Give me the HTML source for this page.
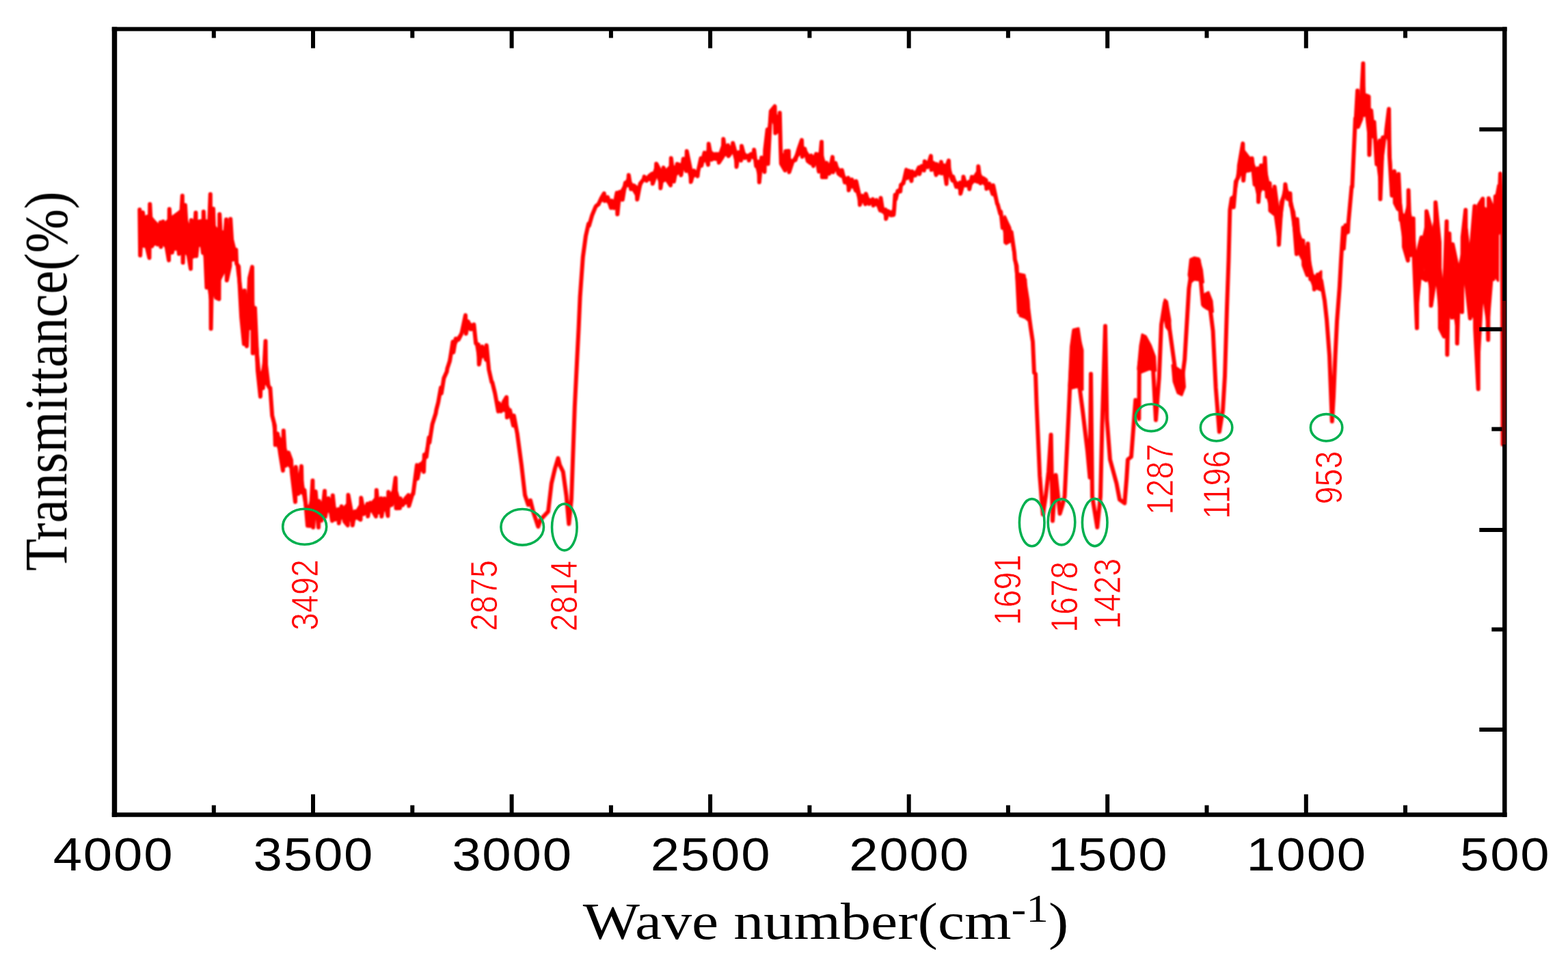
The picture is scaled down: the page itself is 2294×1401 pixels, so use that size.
<!DOCTYPE html>
<html><head><meta charset="utf-8"><title>FTIR spectrum</title>
<style>
html,body{margin:0;padding:0;background:#fff;}
body{width:2294px;height:1401px;overflow:hidden;}
svg{display:block;}
</style></head>
<body>
<svg width="2294" height="1401" viewBox="0 0 2294 1401">
<rect width="2294" height="1401" fill="#fff"/>
<line x1="2201.3" y1="335.5" x2="2182.3" y2="335.5" stroke="#000" stroke-width="6"/>
<defs><filter id="soft" x="-2%" y="-2%" width="104%" height="104%"><feGaussianBlur stdDeviation="0.9"/></filter><filter id="soft2" x="-1%" y="-1%" width="102%" height="102%"><feGaussianBlur stdDeviation="0.45"/></filter></defs>
<g filter="url(#soft)">
<g fill="#ff0000" stroke="#ff0000" stroke-width="3" stroke-linejoin="round">
<polygon points="204.3,320.0 206.3,319.2 208.4,318.3 210.4,317.5 212.4,316.7 214.4,315.9 216.5,315.1 218.5,314.3 220.5,316.5 222.5,318.8 224.5,321.1 226.6,323.4 228.6,325.6 230.6,327.9 232.6,330.2 234.6,332.4 236.7,330.5 238.7,328.5 240.8,326.6 242.9,324.6 244.9,322.6 247.0,320.7 249.0,319.2 251.0,317.7 252.9,316.2 254.9,314.7 256.9,313.2 258.9,311.7 260.9,310.3 262.8,308.8 264.8,307.3 266.8,305.8 268.8,310.8 270.9,315.9 272.9,321.0 274.9,326.0 277.0,331.1 279.0,336.1 280.9,333.0 282.7,329.9 284.5,326.7 286.4,323.6 288.5,323.2 290.6,322.7 292.8,322.3 294.9,321.9 297.0,321.5 299.2,321.8 301.3,322.2 303.5,322.6 305.6,322.9 307.8,323.3 309.9,325.7 312.0,328.2 314.1,330.6 316.2,333.1 318.3,335.6 320.4,338.0 322.5,338.2 324.6,338.3 326.8,338.4 328.9,338.6 331.0,338.7 332.8,337.1 334.6,335.6 336.4,334.0 338.6,342.8 340.9,351.6 343.1,360.4 345.3,370.9 347.2,383.5 349.2,396.2 351.1,408.9 353.1,421.5 355.1,434.2 357.0,446.9 359.0,443.3 361.0,439.8 363.0,436.3 365.0,432.8 367.0,429.3 369.0,425.7 371.0,447.4 373.0,469.0 375.0,490.6 377.0,512.2 379.0,533.9 381.0,555.5 382.9,545.5 384.8,535.5 386.6,525.5 388.5,515.5 390.5,532.8 392.5,550.2 394.5,567.5 396.4,583.2 398.2,598.9 400.1,614.6 402.0,630.3 404.0,632.9 406.0,635.6 408.0,638.2 410.0,640.8 412.0,643.5 414.0,646.1 416.0,651.4 418.0,656.7 420.0,662.0 422.0,667.2 424.0,672.5 426.0,677.8 428.0,684.3 430.0,690.8 432.0,697.2 434.2,696.1 436.5,694.9 438.8,693.7 441.0,692.6 443.2,706.7 445.5,720.8 447.8,734.8 450.0,748.9 451.9,742.2 453.7,735.4 455.5,728.7 457.4,721.9 459.5,727.3 461.7,732.7 463.9,738.1 466.0,743.5 468.2,739.8 470.5,736.1 472.8,732.3 475.0,728.6 476.8,729.6 478.7,730.7 480.5,731.7 482.3,732.7 484.2,733.8 486.0,734.8 488.2,738.7 490.5,742.6 492.8,746.6 495.0,750.5 497.0,748.5 498.9,746.4 500.9,744.4 502.8,742.4 504.8,740.3 506.7,738.3 508.7,736.2 510.8,743.4 512.9,750.6 515.0,757.8 517.1,754.3 519.2,750.9 521.2,747.4 523.3,743.9 525.4,740.5 527.5,737.0 529.5,738.0 531.5,739.0 533.5,740.0 535.5,741.0 537.5,742.0 539.6,739.6 541.7,737.2 543.8,734.8 545.8,732.4 547.9,730.0 550.0,727.5 551.9,729.7 553.8,731.9 555.6,734.0 557.5,736.2 559.5,734.8 561.5,733.4 563.5,732.0 565.5,730.7 567.5,729.3 569.4,726.3 571.2,723.3 573.1,720.2 575.0,717.2 576.8,714.2 578.7,711.2 580.8,718.5 582.9,725.7 585.0,732.9 587.1,732.2 589.2,731.5 591.2,730.7 593.3,730.0 595.4,729.3 597.5,728.6 599.6,726.4 601.6,724.2 603.7,722.0 605.8,709.9 607.9,697.8 610.0,685.6 612.0,682.9 614.0,680.2 616.0,677.4 618.0,674.7 620.0,672.0 621.9,664.5 623.8,656.9 625.6,649.4 627.5,641.9 629.5,633.7 631.5,625.5 633.5,617.3 635.5,609.1 637.5,600.9 639.4,593.0 641.2,585.0 643.1,577.1 645.0,569.2 647.2,561.9 649.4,554.5 651.5,547.2 653.7,539.9 655.9,531.0 658.1,522.0 660.3,513.1 662.5,504.1 664.6,501.1 666.7,498.2 668.8,495.2 670.8,492.3 672.9,489.3 675.0,486.4 677.0,480.4 679.0,474.5 681.0,468.6 682.9,469.8 684.8,471.1 686.8,472.3 688.7,473.6 690.6,474.9 692.5,476.1 694.4,485.1 696.2,494.1 698.1,503.1 700.0,512.1 701.8,511.9 703.7,511.7 705.5,511.5 707.3,511.3 709.2,511.1 711.0,510.9 713.1,522.9 715.2,535.0 717.3,547.0 719.4,559.0 721.3,565.8 723.2,572.5 725.2,579.3 727.1,586.1 729.0,592.8 731.0,592.2 733.0,591.6 735.0,591.0 737.0,590.4 739.0,589.8 741.0,589.1 743.0,593.7 745.0,598.2 747.0,602.7 749.0,607.3 751.0,611.8 753.0,619.7 755.0,627.6 757.0,635.5 757.0,635.5 755.0,629.7 753.0,624.0 751.0,618.2 749.0,615.0 747.0,611.7 745.0,608.5 743.0,605.3 741.0,602.1 739.0,601.4 737.0,600.8 735.0,600.1 733.0,599.5 731.0,598.8 729.0,598.2 727.1,590.3 725.2,582.5 723.2,574.7 721.3,566.8 719.4,559.0 717.3,549.3 715.2,539.5 713.1,529.8 711.0,520.1 709.2,520.9 707.3,521.7 705.5,522.5 703.7,523.3 701.8,524.1 700.0,524.9 698.1,513.4 696.2,501.9 694.4,490.4 692.5,478.9 690.6,479.1 688.7,479.4 686.8,479.7 684.8,479.9 682.9,480.2 681.0,480.4 679.0,482.8 677.0,485.2 675.0,487.6 672.9,491.5 670.8,495.4 668.8,499.3 666.7,503.1 664.6,507.0 662.5,510.9 660.3,518.7 658.1,526.5 655.9,534.3 653.7,542.1 651.5,549.8 649.4,557.5 647.2,565.1 645.0,572.8 643.1,580.4 641.2,588.0 639.4,595.5 637.5,603.1 635.5,611.5 633.5,619.9 631.5,628.3 629.5,636.7 627.5,645.1 625.6,654.6 623.8,664.1 621.9,673.5 620.0,683.0 618.0,685.3 616.0,687.6 614.0,689.8 612.0,692.1 610.0,694.4 607.9,703.6 605.8,712.8 603.7,722.0 601.6,726.5 599.6,731.0 597.5,735.4 595.4,736.0 593.3,736.6 591.2,737.3 589.2,737.9 587.1,738.5 585.0,739.1 582.9,736.3 580.8,733.5 578.7,730.8 576.8,733.1 575.0,735.4 573.1,737.8 571.2,740.1 569.4,742.4 567.5,744.7 565.5,745.3 563.5,746.0 561.5,746.6 559.5,747.2 557.5,747.8 555.6,747.0 553.8,746.1 551.9,745.3 550.0,744.5 547.9,745.4 545.8,746.3 543.8,747.2 541.7,748.2 539.6,749.1 537.5,750.0 535.5,750.2 533.5,750.4 531.5,750.6 529.5,750.8 527.5,751.0 525.4,753.2 523.3,755.4 521.2,757.6 519.2,759.8 517.1,762.0 515.0,764.2 512.9,761.4 510.8,758.6 508.7,755.8 506.7,756.3 504.8,756.8 502.8,757.4 500.9,757.9 498.9,758.4 497.0,759.0 495.0,759.5 492.8,757.4 490.5,755.4 488.2,753.3 486.0,751.2 484.2,750.2 482.3,749.3 480.5,748.3 478.7,747.3 476.8,746.4 475.0,745.4 472.8,749.2 470.5,752.9 468.2,756.7 466.0,760.5 463.9,758.4 461.7,756.3 459.5,754.2 457.4,752.1 455.5,754.3 453.7,756.6 451.9,758.8 450.0,761.1 447.8,748.2 445.5,735.2 443.2,722.3 441.0,709.4 438.8,712.0 436.5,714.6 434.2,717.2 432.0,719.8 430.0,708.2 428.0,696.7 426.0,685.2 424.0,683.0 422.0,680.8 420.0,678.5 418.0,676.3 416.0,674.1 414.0,671.9 412.0,667.0 410.0,662.2 408.0,657.3 406.0,652.4 404.0,647.6 402.0,642.7 400.1,623.9 398.2,605.1 396.4,586.3 394.5,567.5 392.5,558.8 390.5,550.2 388.5,541.5 386.6,548.8 384.8,556.0 382.9,563.3 381.0,570.5 379.0,555.6 377.0,540.8 375.0,525.9 373.0,511.0 371.0,496.1 369.0,481.3 367.0,481.2 365.0,481.2 363.0,481.2 361.0,481.2 359.0,481.2 357.0,481.1 355.1,464.3 353.1,447.4 351.1,430.5 349.2,413.6 347.2,396.7 345.3,379.8 343.1,379.9 340.9,378.3 338.6,376.7 336.4,375.2 334.6,380.8 332.8,386.5 331.0,392.2 328.9,396.3 326.8,400.4 324.6,404.4 322.5,408.5 320.4,412.6 318.3,417.4 316.2,422.2 314.1,427.0 312.0,431.8 309.9,436.6 307.8,441.4 305.6,424.7 303.5,407.9 301.3,391.2 299.2,374.5 297.0,357.7 294.9,358.5 292.8,359.4 290.6,360.2 288.5,361.0 286.4,361.8 284.5,366.1 282.7,370.3 280.9,374.6 279.0,378.9 277.0,376.5 274.9,374.1 272.9,371.7 270.9,369.3 268.8,366.9 266.8,364.5 264.8,364.6 262.8,364.7 260.9,364.8 258.9,365.0 256.9,365.1 254.9,365.2 252.9,365.3 251.0,365.4 249.0,365.5 247.0,365.6 244.9,363.7 242.9,361.7 240.8,359.7 238.7,357.8 236.7,355.8 234.6,353.9 232.6,354.8 230.6,355.8 228.6,356.7 226.6,357.6 224.5,358.6 222.5,359.5 220.5,360.5 218.5,361.4 216.5,361.2 214.4,361.1 212.4,360.9 210.4,360.7 208.4,360.5 206.3,360.3 204.3,360.1"/>
<polygon points="861.0,328.1 863.1,322.8 865.2,317.5 867.2,312.2 869.3,306.9 871.4,301.6 873.5,299.0 875.5,296.3 877.6,293.7 879.7,291.1 881.7,288.5 883.8,285.9 885.8,288.0 887.9,290.1 889.9,292.2 892.0,294.3 894.0,296.3 896.1,295.0 898.2,293.6 900.4,292.2 902.5,290.8 904.6,286.9 906.6,283.1 908.7,279.3 910.8,275.5 912.8,271.6 914.9,267.8 916.9,264.0 919.0,260.1 921.1,263.3 923.1,266.5 925.2,269.7 927.3,273.0 929.3,276.2 931.4,279.4 933.5,275.4 935.6,271.4 937.6,267.4 939.7,263.4 941.8,259.4 943.8,259.2 945.9,259.0 947.9,258.8 949.9,258.6 952.0,258.4 954.0,258.2 955.8,253.5 957.6,248.8 959.4,244.1 961.5,248.4 963.5,252.6 965.6,256.9 967.5,255.1 969.5,253.3 971.4,251.4 973.3,249.6 975.2,247.8 977.1,246.0 979.1,244.1 981.0,242.3 983.1,242.8 985.2,243.3 987.3,243.8 989.3,244.3 991.4,244.8 993.5,245.3 995.6,245.8 997.7,241.7 999.8,237.5 1001.9,233.3 1004.0,229.1 1006.0,236.7 1008.0,244.3 1010.0,251.9 1012.1,252.1 1014.2,252.2 1016.3,252.4 1018.4,252.6 1020.5,252.7 1023.0,243.6 1025.4,234.5 1027.5,231.4 1029.6,228.3 1031.8,225.1 1033.9,222.0 1036.0,218.9 1037.9,220.1 1039.8,221.4 1041.6,222.6 1043.5,223.9 1045.4,225.1 1047.2,226.4 1049.1,227.6 1051.0,228.9 1053.2,222.7 1055.3,216.5 1057.5,210.4 1059.4,212.0 1061.2,213.6 1063.1,215.3 1065.0,216.9 1067.1,215.4 1069.3,213.9 1071.4,212.4 1073.2,218.5 1074.9,224.6 1076.7,230.7 1078.6,227.9 1080.5,225.1 1082.3,222.2 1084.2,219.4 1086.4,221.4 1088.5,223.4 1090.7,225.4 1092.8,227.4 1095.0,229.4 1096.8,227.6 1098.7,225.7 1100.6,223.9 1102.4,222.1 1104.3,227.7 1106.2,233.4 1108.1,239.1 1110.0,244.7 1112.1,240.6 1114.2,236.5 1116.4,232.4 1118.5,228.2 1120.7,215.8 1122.8,203.3 1124.9,184.6 1127.0,165.9 1129.2,166.0 1131.3,166.2 1133.5,166.4 1135.7,168.2 1137.8,170.0 1140.0,171.7 1142.0,222.6 1144.2,224.7 1146.3,226.9 1148.5,229.0 1150.3,229.1 1152.0,229.3 1153.8,229.4 1155.5,231.7 1157.3,234.0 1159.0,236.2 1161.0,232.7 1163.0,229.2 1165.0,225.7 1167.0,222.2 1169.0,218.6 1171.0,215.1 1173.0,211.6 1175.2,214.8 1177.3,218.0 1179.5,221.1 1181.7,224.3 1183.8,227.5 1186.0,230.7 1188.0,229.6 1190.0,228.5 1192.0,227.4 1194.0,226.3 1196.0,225.2 1198.0,224.0 1200.0,222.9 1202.0,221.8 1204.1,229.3 1206.3,236.7 1208.4,244.1 1210.3,242.5 1212.2,240.8 1214.2,239.1 1216.1,237.5 1218.0,235.8 1220.2,238.3 1222.3,240.9 1224.5,243.5 1226.7,246.0 1228.8,248.6 1231.0,251.2 1233.0,254.0 1235.0,256.8 1236.9,259.6 1238.9,262.4 1240.9,265.2 1243.1,266.0 1245.3,266.7 1247.4,267.4 1249.6,268.1 1251.8,268.9 1253.6,275.8 1255.4,282.7 1257.2,289.6 1259.4,289.1 1261.6,288.6 1263.8,288.2 1266.0,287.7 1268.2,288.9 1270.4,290.2 1272.5,291.4 1274.7,292.6 1276.9,293.9 1279.1,294.0 1281.3,294.2 1283.4,294.3 1285.6,294.5 1287.8,294.6 1289.7,298.6 1291.6,302.5 1293.5,306.4 1295.4,310.4 1297.4,310.0 1299.4,309.7 1301.4,309.3 1303.4,309.0 1305.4,308.6 1307.4,308.2 1309.6,286.8 1311.5,283.4 1313.4,280.0 1315.3,276.6 1317.2,273.2 1319.4,267.8 1321.6,262.5 1323.8,257.1 1326.0,251.8 1327.9,252.5 1329.8,253.2 1331.6,254.0 1333.5,254.7 1335.7,253.3 1337.9,251.8 1340.0,250.4 1342.2,248.9 1344.4,247.5 1346.3,245.5 1348.2,243.5 1350.1,241.6 1352.0,239.6 1354.0,238.4 1356.0,237.2 1357.9,236.1 1359.9,234.9 1361.9,233.7 1363.8,236.4 1365.7,239.0 1367.6,241.7 1369.5,244.4 1371.4,243.7 1373.2,243.0 1375.1,242.3 1377.0,241.6 1378.9,243.5 1380.8,245.5 1382.8,247.4 1384.7,249.4 1386.3,244.6 1388.0,239.7 1389.8,246.4 1391.7,253.1 1393.5,259.8 1395.7,262.2 1397.9,264.6 1400.0,266.9 1402.2,269.3 1404.4,271.7 1406.6,266.7 1408.7,261.8 1410.9,263.6 1413.1,265.5 1415.2,267.3 1417.4,269.1 1419.3,266.3 1421.1,263.5 1423.0,260.7 1424.9,257.9 1426.8,255.1 1428.6,252.3 1430.5,249.5 1432.5,252.4 1434.5,255.3 1436.5,258.3 1438.5,261.2 1440.5,264.1 1442.5,267.0 1444.5,268.5 1446.4,270.1 1448.4,271.6 1450.3,273.1 1452.3,274.6 1454.5,282.6 1456.7,290.5 1458.9,298.4 1461.2,304.4 1463.4,310.4 1465.7,316.7 1468.0,322.9 1470.3,329.2 1472.4,332.3 1474.5,335.5 1476.7,338.6 1478.8,341.7 1480.5,351.9 1482.3,362.1 1484.0,372.2 1486.3,388.1 1488.5,403.9 1490.8,419.7 1493.0,419.3 1495.1,418.8 1497.2,418.4 1499.4,417.9 1501.7,434.2 1503.9,450.5 1506.2,466.9 1506.2,466.9 1503.9,455.3 1501.7,443.7 1499.4,432.1 1497.2,434.6 1495.1,437.2 1493.0,439.7 1490.8,442.3 1488.5,420.5 1486.3,398.6 1484.0,376.8 1482.3,366.3 1480.5,355.9 1478.8,345.5 1476.7,345.2 1474.5,344.9 1472.4,344.7 1470.3,344.4 1468.0,333.5 1465.7,322.7 1463.4,311.8 1461.2,305.3 1458.9,298.8 1456.7,292.6 1454.5,286.4 1452.3,280.2 1450.3,278.6 1448.4,277.1 1446.4,275.6 1444.5,274.0 1442.5,272.5 1440.5,270.3 1438.5,268.2 1436.5,266.0 1434.5,263.8 1432.5,261.7 1430.5,259.5 1428.6,261.5 1426.8,263.5 1424.9,265.6 1423.0,267.6 1421.1,269.6 1419.3,271.7 1417.4,273.7 1415.2,272.0 1413.1,270.3 1410.9,268.6 1408.7,266.9 1406.6,272.8 1404.4,278.7 1402.2,275.4 1400.0,272.1 1397.9,268.8 1395.7,265.6 1393.5,262.3 1391.7,257.3 1389.8,252.4 1388.0,247.5 1386.3,254.4 1384.7,261.4 1382.8,258.3 1380.8,255.2 1378.9,252.1 1377.0,248.9 1375.1,249.6 1373.2,250.2 1371.4,250.8 1369.5,251.4 1367.6,249.2 1365.7,247.0 1363.8,244.8 1361.9,242.6 1359.9,243.2 1357.9,243.7 1356.0,244.3 1354.0,244.8 1352.0,245.4 1350.1,247.0 1348.2,248.6 1346.3,250.1 1344.4,251.7 1342.2,253.5 1340.0,255.4 1337.9,257.2 1335.7,259.0 1333.5,260.8 1331.6,259.9 1329.8,259.0 1327.9,258.1 1326.0,257.2 1323.8,262.2 1321.6,267.3 1319.4,272.3 1317.2,277.3 1315.3,280.4 1313.4,283.5 1311.5,286.6 1309.6,289.7 1307.4,311.9 1305.4,312.6 1303.4,313.3 1301.4,314.0 1299.4,314.8 1297.4,315.5 1295.4,316.2 1293.5,312.8 1291.6,309.4 1289.7,306.0 1287.8,302.6 1285.6,301.6 1283.4,300.7 1281.3,299.8 1279.1,298.9 1276.9,297.9 1274.7,297.2 1272.5,296.5 1270.4,295.8 1268.2,295.0 1266.0,294.3 1263.8,294.6 1261.6,295.0 1259.4,295.3 1257.2,295.6 1255.4,288.7 1253.6,281.8 1251.8,274.8 1249.6,274.5 1247.4,274.2 1245.3,273.8 1243.1,273.5 1240.9,273.2 1238.9,269.5 1236.9,265.8 1235.0,262.2 1233.0,258.5 1231.0,254.8 1228.8,253.3 1226.7,251.7 1224.5,250.2 1222.3,248.6 1220.2,247.1 1218.0,245.5 1216.1,247.1 1214.2,248.6 1212.2,250.2 1210.3,251.7 1208.4,253.3 1206.3,250.3 1204.1,247.4 1202.0,244.5 1200.0,243.3 1198.0,242.2 1196.0,241.1 1194.0,240.0 1192.0,238.9 1190.0,237.8 1188.0,236.6 1186.0,235.5 1183.8,233.3 1181.7,231.1 1179.5,229.0 1177.3,226.8 1175.2,224.6 1173.0,222.4 1171.0,224.5 1169.0,226.7 1167.0,228.8 1165.0,231.0 1163.0,233.1 1161.0,235.2 1159.0,237.4 1157.3,239.3 1155.5,241.2 1153.8,243.1 1152.0,242.5 1150.3,241.9 1148.5,241.3 1146.3,238.4 1144.2,235.6 1142.0,232.7 1140.0,182.3 1137.8,182.7 1135.7,183.2 1133.5,183.7 1131.3,179.4 1129.2,175.1 1127.0,170.8 1124.9,198.2 1122.8,225.5 1120.7,233.9 1118.5,242.4 1116.4,246.3 1114.2,250.2 1112.1,254.1 1110.0,258.0 1108.1,250.2 1106.2,242.5 1104.3,234.7 1102.4,226.9 1100.6,228.4 1098.7,229.8 1096.8,231.2 1095.0,232.6 1092.8,231.8 1090.7,231.0 1088.5,230.3 1086.4,229.5 1084.2,228.7 1082.3,231.2 1080.5,233.7 1078.6,236.2 1076.7,238.8 1074.9,231.7 1073.2,224.6 1071.4,217.5 1069.3,219.6 1067.1,221.7 1065.0,223.8 1063.1,223.3 1061.2,222.7 1059.4,222.2 1057.5,221.6 1055.3,225.8 1053.2,230.0 1051.0,234.2 1049.1,234.0 1047.2,233.8 1045.4,233.6 1043.5,233.3 1041.6,233.1 1039.8,232.9 1037.9,232.6 1036.0,232.4 1033.9,233.8 1031.8,235.2 1029.6,236.5 1027.5,237.9 1025.4,239.3 1023.0,247.5 1020.5,255.7 1018.4,256.7 1016.3,257.6 1014.2,258.6 1012.1,259.6 1010.0,260.6 1008.0,254.3 1006.0,248.1 1004.0,241.9 1001.9,244.5 999.8,247.0 997.7,249.6 995.6,252.2 993.5,253.3 991.4,254.3 989.3,255.4 987.3,256.5 985.2,257.6 983.1,258.7 981.0,259.8 979.1,260.8 977.1,261.9 975.2,262.9 973.3,263.9 971.4,265.0 969.5,266.0 967.5,267.1 965.6,268.1 963.5,262.6 961.5,257.0 959.4,251.5 957.6,255.8 955.8,260.2 954.0,264.5 952.0,263.9 949.9,263.4 947.9,262.8 945.9,262.2 943.8,261.6 941.8,261.1 939.7,266.2 937.6,271.4 935.6,276.6 933.5,281.8 931.4,286.9 929.3,283.6 927.3,280.2 925.2,276.8 923.1,273.4 921.1,270.0 919.0,266.7 916.9,271.4 914.9,276.1 912.8,280.9 910.8,285.6 908.7,290.3 906.6,295.1 904.6,299.8 902.5,304.5 900.4,303.7 898.2,302.8 896.1,301.9 894.0,301.1 892.0,299.0 889.9,296.9 887.9,294.9 885.8,292.8 883.8,290.7 881.7,292.6 879.7,294.5 877.6,296.4 875.5,298.3 873.5,300.2 871.4,302.1 869.3,307.6 867.2,313.0 865.2,318.5 863.1,323.9 861.0,329.4"/>
<polygon points="1804.0,290.8 1806.0,279.3 1808.0,267.7 1810.0,256.1 1812.0,244.5 1814.1,235.7 1816.2,226.9 1818.3,218.0 1820.4,220.7 1822.5,223.3 1824.6,225.9 1826.7,228.6 1828.8,231.2 1830.9,233.8 1832.8,237.8 1834.7,241.7 1836.5,245.7 1838.4,249.6 1840.3,253.6 1842.2,250.4 1844.1,247.2 1845.9,244.0 1847.8,240.8 1849.7,237.6 1851.7,246.7 1853.7,255.8 1855.6,264.9 1857.6,274.0 1859.7,275.7 1861.8,277.3 1863.9,278.9 1866.0,293.2 1868.1,307.6 1870.2,321.9 1872.1,311.8 1874.0,301.7 1875.8,291.6 1877.7,281.6 1879.6,271.5 1881.6,274.9 1883.5,278.4 1885.5,281.9 1887.5,285.3 1889.4,293.9 1891.3,302.4 1893.1,311.0 1895.0,319.6 1896.9,328.1 1898.8,334.0 1900.7,339.8 1902.6,345.6 1904.5,351.4 1906.4,357.3 1908.5,359.2 1910.5,361.2 1912.6,363.1 1914.5,372.0 1916.4,380.8 1918.2,389.6 1920.1,398.5 1922.0,407.3 1923.8,405.5 1925.7,403.7 1927.5,401.9 1929.3,400.2 1931.2,398.4 1933.0,396.6 1933.0,424.8 1931.2,424.1 1929.3,423.3 1927.5,422.6 1925.7,421.9 1923.8,421.1 1922.0,420.4 1920.1,415.4 1918.2,410.4 1916.4,405.4 1914.5,400.4 1912.6,395.4 1910.5,391.0 1908.5,386.7 1906.4,382.3 1904.5,378.6 1902.6,374.9 1900.7,371.3 1898.8,367.6 1896.9,363.9 1895.0,350.5 1893.1,337.2 1891.3,323.9 1889.4,310.5 1887.5,297.2 1885.5,293.1 1883.5,289.1 1881.6,285.1 1879.6,281.0 1877.7,295.1 1875.8,309.2 1874.0,323.3 1872.1,337.4 1870.2,351.5 1868.1,336.5 1866.0,321.6 1863.9,306.6 1861.8,305.0 1859.7,303.4 1857.6,301.9 1855.6,293.7 1853.7,285.6 1851.7,277.5 1849.7,269.3 1847.8,273.1 1845.9,276.8 1844.1,280.5 1842.2,284.2 1840.3,287.9 1838.4,279.3 1836.5,270.7 1834.7,262.0 1832.8,253.4 1830.9,244.8 1828.8,246.6 1826.7,248.5 1824.6,250.3 1822.5,252.2 1820.4,254.0 1818.3,255.9 1816.2,255.9 1814.1,256.0 1812.0,256.1 1810.0,267.3 1808.0,278.4 1806.0,289.6 1804.0,300.8"/>
<polygon points="1965.0,341.6 1966.8,338.4 1968.5,335.2 1970.2,332.0 1972.0,328.8 1973.8,310.2 1975.7,291.6 1977.5,273.0 1979.3,239.8 1981.1,206.5 1982.9,173.3 1984.5,160.3 1986.0,147.4 1987.8,146.0 1989.7,144.6 1991.5,143.2 1994.3,113.9 1995.9,130.5 1997.5,147.1 2000.0,156.1 2002.5,165.1 2004.3,170.0 2006.0,174.8 2007.8,179.7 2009.6,184.5 2011.8,195.8 2014.1,207.0 2016.3,218.2 2018.6,229.4 2020.8,220.1 2023.0,210.9 2025.3,201.6 2027.5,192.3 2029.8,185.2 2032.0,178.1 2034.2,225.4 2036.4,272.8 2038.2,268.1 2040.0,263.3 2041.8,261.3 2043.5,263.1 2045.3,264.8 2047.3,279.7 2049.2,294.6 2051.2,309.5 2053.2,324.4 2055.4,315.8 2057.6,307.3 2059.8,298.8 2061.8,306.6 2063.8,314.4 2065.7,322.2 2067.7,330.1 2069.5,351.2 2071.2,372.4 2073.0,393.6 2075.2,382.0 2077.4,370.5 2079.6,358.9 2081.8,349.0 2084.0,339.0 2086.2,329.1 2088.4,337.8 2090.6,346.5 2092.8,355.2 2095.0,343.0 2097.2,330.7 2099.4,318.4 2101.6,338.8 2103.8,359.2 2106.0,379.6 2108.2,397.0 2110.4,414.3 2112.6,431.7 2114.6,397.2 2116.5,362.7 2118.5,366.7 2120.4,370.7 2122.4,374.7 2124.4,378.6 2126.6,388.6 2128.8,398.6 2131.0,408.5 2133.0,398.6 2135.0,388.6 2137.0,378.7 2139.0,368.7 2140.7,355.1 2142.5,341.5 2144.2,327.9 2146.4,336.6 2148.6,357.9 2150.8,379.2 2153.0,358.1 2155.2,337.0 2157.4,315.8 2159.2,317.7 2160.9,319.7 2162.7,321.6 2164.9,315.3 2167.1,309.0 2169.3,302.7 2171.3,303.7 2173.2,304.7 2175.2,305.6 2177.2,306.6 2179.4,308.9 2181.6,311.2 2183.8,313.4 2185.8,302.8 2187.8,292.2 2189.7,281.6 2191.7,270.9 2191.7,410.8 2189.7,408.0 2187.8,405.3 2185.8,402.6 2183.8,399.9 2181.6,426.7 2179.4,453.5 2177.2,480.4 2175.2,467.6 2173.2,454.7 2171.3,441.9 2169.3,429.1 2167.1,468.5 2164.9,508.0 2162.7,547.4 2160.9,520.3 2159.2,493.2 2157.4,466.1 2155.2,463.4 2153.0,460.7 2150.8,458.0 2148.6,439.7 2146.4,421.5 2144.2,390.7 2142.5,405.2 2140.7,419.8 2139.0,434.3 2137.0,445.4 2135.0,456.6 2133.0,467.7 2131.0,478.9 2128.8,466.9 2126.6,454.9 2124.4,442.9 2122.4,452.1 2120.4,461.3 2118.5,470.6 2116.5,479.8 2114.6,478.4 2112.6,476.9 2110.4,469.7 2108.2,462.4 2106.0,455.1 2103.8,431.9 2101.6,408.7 2099.4,385.6 2097.2,398.4 2095.0,411.2 2092.8,424.1 2090.6,412.5 2088.4,401.0 2086.2,389.4 2084.0,390.9 2081.8,392.5 2079.6,394.0 2077.4,415.4 2075.2,436.8 2073.0,458.2 2071.2,426.2 2069.5,394.2 2067.7,362.1 2065.7,361.7 2063.8,361.3 2061.8,360.9 2059.8,360.4 2057.6,357.6 2055.4,354.7 2053.2,351.8 2051.2,337.7 2049.2,323.6 2047.3,309.5 2045.3,295.4 2043.5,292.8 2041.8,290.1 2040.0,283.8 2038.2,282.3 2036.4,280.8 2034.2,244.3 2032.0,207.8 2029.8,202.3 2027.5,196.7 2025.3,214.3 2023.0,231.9 2020.8,249.6 2018.6,267.2 2016.3,248.8 2014.1,230.5 2011.8,212.2 2009.6,193.9 2007.8,196.0 2006.0,198.2 2004.3,200.4 2002.5,202.6 2000.0,180.8 1997.5,158.9 1995.9,153.0 1994.3,147.1 1991.5,161.8 1989.7,164.8 1987.8,167.7 1986.0,170.6 1984.5,172.0 1982.9,173.3 1981.1,206.5 1979.3,239.8 1977.5,273.0 1975.7,293.7 1973.8,314.5 1972.0,335.2 1970.2,340.2 1968.5,345.1 1966.8,350.1 1965.0,355.0"/>
<polygon points="1564.0,565.0 1566.0,530.0 1570.0,482.0 1578.0,480.0 1581.0,500.0 1584.0,512.0 1584.0,570.0 1576.0,566.0 1568.0,568.0"/>
<polygon points="1664.8,540.0 1668.0,505.0 1671.0,489.0 1676.2,491.5 1683.5,505.0 1689.7,521.5 1690.7,542.2 1681.4,540.0 1669.0,545.0"/>
<polygon points="1702.0,452.0 1704.0,438.0 1707.5,441.0 1712.0,468.0 1712.0,486.0 1706.0,478.0"/>
<polygon points="1715.0,534.0 1722.0,538.0 1732.0,545.0 1733.5,566.0 1729.0,578.0 1723.0,575.0 1717.0,558.0"/>
<polygon points="1739.0,402.0 1741.5,379.0 1747.0,376.5 1754.0,378.0 1758.5,395.0 1760.5,413.0 1754.0,410.0 1747.0,409.0 1742.0,413.0"/>
<polygon points="1760.0,448.0 1762.5,430.0 1768.0,427.0 1773.0,440.0 1774.5,456.0 1766.0,452.0"/>
<polygon points="1490.0,400.0 1499.0,402.0 1505.0,440.0 1506.0,470.0 1500.0,465.0 1492.0,462.0"/>
<polygon points="1470.0,316.0 1478.0,333.0 1481.0,352.0 1472.0,357.0"/>
</g>
<polyline fill="none" stroke="#ff0000" stroke-width="6.0" stroke-linejoin="round" stroke-linecap="round" points="204.3,306.6 205.1,373.5 209.0,310.8 213.8,356.9 218.5,377.1 219.3,298.6 222.5,359.9 226.6,327.8 230.6,357.6 234.6,325.3 235.4,361.0 238.7,324.1 242.9,356.6 247.0,380.6 247.8,305.7 251.9,369.2 256.9,320.9 261.9,371.2 266.8,286.2 267.6,384.1 270.9,300.0 274.9,368.3 279.0,393.1 279.8,321.9 282.7,375.2 286.4,310.9 287.2,374.5 291.7,325.5 297.0,369.8 297.8,309.4 302.4,420.5 307.8,283.9 308.6,480.8 312.0,305.2 316.2,435.3 320.4,437.4 321.2,313.2 325.7,393.4 331.0,320.9 331.8,410.0 336.4,388.9 337.2,320.3 340.9,379.5 345.3,365.2 346.1,385.5 349.2,389.8 353.1,463.4 357.0,503.0 357.8,425.0 361.0,506.2 365.0,406.6 369.0,390.4 369.8,516.6 373.0,450.6 377.0,542.3 381.0,580.0 381.8,546.0 384.8,567.5 388.5,498.8 389.3,558.2 394.5,567.5 395.3,567.5 398.2,607.7 402.0,622.4 402.8,650.6 406.0,634.2 410.0,663.8 414.0,688.3 414.8,629.7 418.0,681.0 422.0,662.0 426.0,673.1 426.8,689.9 432.0,734.1 432.8,682.9 436.5,722.1 441.0,681.8 441.8,720.2 445.5,716.9 450.0,768.8 450.8,741.2 453.7,769.1 457.4,702.8 458.2,771.2 461.7,718.7 466.0,771.2 466.8,732.8 470.5,761.3 475.0,717.9 475.8,756.1 480.5,728.8 486.0,761.6 486.8,724.4 490.5,759.7 495.0,744.8 495.8,765.2 499.6,740.5 504.1,762.7 508.7,768.2 509.5,723.8 515.0,753.8 515.8,768.2 519.2,748.0 523.3,757.2 527.5,759.9 528.3,728.1 532.5,751.6 537.5,736.9 538.3,755.1 541.7,735.4 545.8,748.0 550.0,755.2 550.8,716.8 553.8,749.6 557.5,728.8 558.3,755.2 562.5,729.0 567.5,754.5 568.3,719.5 573.1,738.4 578.7,698.8 579.5,743.2 585.0,743.0 585.8,729.0 589.2,738.7 593.3,729.0 597.5,724.2 598.3,739.8 603.7,722.0 604.5,722.0 610.0,680.1 610.8,699.9 615.0,679.1 620.0,690.0 620.8,665.0 623.8,668.1 627.5,639.8 628.3,647.2 632.5,620.4 637.5,604.5 638.3,599.5 641.2,588.3 645.0,566.8 645.8,575.2 649.4,553.0 653.7,543.4 654.5,538.6 658.1,527.8 662.5,499.8 663.3,515.2 666.7,495.2 670.8,496.7 675.0,488.4 675.8,485.6 681.0,461.0 681.8,488.0 684.8,470.1 688.7,481.4 692.5,480.6 693.3,474.4 696.2,502.2 700.0,504.0 700.8,533.0 705.5,506.9 711.0,525.9 711.8,505.1 715.2,540.3 719.4,559.0 720.2,559.0 724.2,575.3 729.0,601.6 729.8,589.4 733.0,601.4 737.0,587.6 741.0,580.9 741.8,610.3 746.0,599.9 751.0,622.3 751.8,607.7 757.0,635.5 757.0,636.0 763.0,680.6 768.0,724.0 772.8,738.2 776.0,731.8 780.0,748.0 784.0,760.0 787.3,770.2 791.0,760.0 794.6,756.0 802.0,748.0 806.8,707.0 812.0,685.0 816.5,670.1 819.0,680.0 823.8,690.0 828.6,725.0 832.3,766.2 836.0,730.0 840.8,595.6 844.4,522.8 846.6,480.0 848.6,434.3 852.8,376.0 857.0,345.0 861.0,327.4 861.8,330.1 866.2,314.9 871.4,302.4 872.2,301.3 875.5,298.9 879.7,289.7 883.8,282.8 884.6,293.8 888.9,288.3 894.0,304.0 894.8,293.4 898.2,304.2 902.5,282.0 903.3,313.3 906.6,280.8 910.8,292.0 914.9,267.2 919.0,270.8 919.8,256.0 923.1,276.5 927.3,271.4 931.4,274.6 932.2,291.7 936.6,268.6 941.8,262.1 942.6,258.4 945.9,264.2 949.9,257.3 954.0,254.1 954.8,268.6 959.4,256.2 960.2,239.4 965.6,249.8 966.4,275.2 970.7,245.1 975.9,263.1 981.0,270.9 981.8,231.2 985.9,265.4 990.7,239.9 995.6,241.8 996.4,256.2 999.8,232.2 1004.0,250.0 1004.8,221.0 1010.0,246.4 1010.8,266.1 1015.2,249.6 1020.5,257.6 1021.3,250.8 1025.4,231.5 1026.2,242.3 1030.7,223.3 1036.0,241.0 1036.8,210.3 1041.0,233.5 1046.0,225.5 1051.0,225.4 1051.8,237.7 1057.5,228.8 1058.3,203.2 1061.2,225.7 1065.0,212.5 1065.8,228.2 1071.4,220.7 1072.2,209.2 1076.7,225.6 1077.5,243.9 1080.5,222.8 1084.2,234.6 1085.0,213.5 1089.6,230.9 1095.0,227.4 1095.8,234.6 1098.7,225.4 1102.4,230.1 1103.2,218.9 1106.2,242.9 1110.0,236.3 1110.8,266.4 1114.2,230.4 1118.5,251.4 1119.3,219.2 1122.8,189.2 1123.6,239.6 1127.0,174.0 1127.8,162.7 1133.5,155.5 1134.3,194.6 1140.0,189.0 1140.8,165.0 1142.0,216.1 1142.8,239.2 1148.5,249.1 1149.3,221.2 1153.8,220.8 1154.6,251.7 1159.0,238.1 1159.8,235.5 1163.7,233.9 1168.3,218.3 1173.0,204.8 1173.8,229.2 1177.3,217.7 1181.7,235.3 1186.0,238.6 1186.8,227.6 1190.0,242.7 1194.0,225.2 1198.0,250.9 1202.0,207.4 1202.8,258.9 1208.4,259.1 1209.2,238.3 1213.2,253.9 1218.0,229.6 1218.8,251.7 1222.3,238.5 1226.7,253.8 1231.0,257.2 1231.8,248.8 1236.0,266.7 1240.9,260.2 1241.7,278.2 1246.3,262.6 1251.8,278.6 1252.6,265.1 1257.2,285.7 1258.0,299.5 1261.6,286.4 1266.0,298.5 1266.8,283.5 1271.5,298.2 1276.9,291.3 1277.7,300.5 1282.3,292.7 1287.8,307.6 1288.6,289.6 1291.6,309.3 1295.4,306.6 1296.2,320.0 1299.4,308.8 1303.4,314.7 1307.4,314.2 1308.2,305.9 1309.6,285.0 1310.4,291.5 1313.4,279.2 1317.2,280.0 1318.0,270.5 1321.6,268.1 1326.0,248.4 1326.8,260.6 1329.8,249.8 1333.5,264.7 1334.3,250.8 1339.0,256.4 1344.4,244.8 1345.2,254.4 1348.2,243.0 1352.0,249.1 1352.8,235.9 1357.0,244.3 1361.9,228.0 1362.7,248.3 1365.7,238.3 1369.5,255.9 1370.3,239.9 1373.2,252.8 1377.0,236.9 1377.8,253.6 1380.8,241.9 1384.7,269.0 1385.5,241.8 1388.0,234.8 1388.8,252.4 1393.5,263.8 1394.3,258.3 1399.0,273.2 1404.4,267.2 1405.2,283.2 1408.7,270.2 1409.5,258.5 1413.1,271.3 1417.4,266.2 1418.2,276.6 1421.8,258.8 1426.1,264.2 1430.5,265.8 1431.3,243.2 1434.5,268.0 1438.5,260.7 1442.5,263.5 1443.3,276.0 1447.4,268.6 1452.3,283.7 1453.1,271.1 1458.9,298.2 1459.7,299.0 1463.4,312.7 1464.2,309.5 1466.8,333.1 1470.3,319.5 1471.1,354.1 1474.5,329.4 1478.8,347.9 1479.6,339.3 1484.0,369.4 1484.8,379.6 1487.4,388.7 1490.8,456.7 1491.6,405.3 1495.1,447.6 1499.4,408.9 1500.2,441.1 1502.8,439.6 1506.2,466.9 1508.0,480.0 1511.0,500.0 1513.0,545.2 1515.0,546.8 1516.5,590.0 1521.2,696.0 1523.6,726.0 1525.9,752.2 1530.0,725.0 1534.0,690.0 1537.6,635.8 1540.0,761.8 1544.7,694.8 1550.6,751.2 1554.0,740.0 1557.6,726.0 1563.7,601.0 1568.0,507.0 1571.0,485.0 1574.5,482.8 1577.5,495.0 1579.4,500.0 1579.4,566.0 1584.0,601.0 1591.0,660.0 1594.5,698.2 1596.0,546.8 1598.0,726.0 1605.3,771.2 1610.0,726.0 1612.4,625.0 1617.0,476.8 1619.4,613.0 1624.0,672.0 1633.5,707.0 1638.0,730.6 1645.3,735.9 1648.2,700.0 1650.0,672.0 1655.0,668.0 1661.3,585.0 1666.3,612.8 1666.8,536.0 1672.8,493.1 1678.0,500.0 1681.4,515.0 1686.0,519.0 1691.0,614.2 1695.8,552.0 1699.0,475.0 1704.2,442.4 1710.4,476.0 1718.7,536.0 1724.0,565.0 1727.0,573.5 1733.2,525.6 1739.4,422.0 1745.6,380.4 1753.9,380.7 1760.0,445.2 1768.4,434.2 1774.6,484.2 1778.7,567.0 1783.9,631.5 1789.0,600.0 1792.0,550.0 1795.0,451.0 1797.5,380.0 1799.4,307.0 1802.0,290.0 1804.0,288.7 1804.8,302.9 1808.0,265.5 1812.0,258.6 1812.8,242.0 1818.3,209.9 1819.1,264.0 1822.5,227.9 1826.7,249.4 1830.9,247.1 1831.7,231.5 1835.6,269.8 1840.3,246.2 1841.1,295.3 1845.0,242.1 1849.7,276.1 1850.5,230.8 1853.7,287.6 1857.6,268.0 1858.4,307.9 1863.9,312.5 1864.7,273.0 1870.2,315.5 1871.0,357.9 1874.9,295.5 1879.6,283.1 1880.4,269.4 1883.5,290.8 1887.5,282.8 1888.3,299.7 1892.2,310.3 1896.9,371.5 1897.7,320.5 1901.7,366.7 1906.4,351.9 1907.2,387.7 1912.6,402.3 1913.4,356.2 1917.3,408.2 1922.0,404.5 1922.8,423.2 1927.5,401.8 1933.0,410.7 1938.0,440.0 1941.0,467.3 1945.0,520.0 1948.8,616.2 1951.0,580.0 1953.5,521.0 1956.0,470.0 1959.8,420.0 1962.0,380.0 1965.0,333.0 1965.8,363.6 1968.5,329.4 1972.0,339.3 1972.8,324.7 1977.5,273.0 1978.3,273.0 1982.9,173.3 1983.7,173.3 1986.0,132.6 1986.8,185.4 1991.5,173.7 1992.3,131.3 1994.3,92.8 1995.1,168.2 1997.5,166.5 1998.3,139.5 2002.5,141.2 2003.3,226.5 2006.0,161.6 2009.6,199.8 2010.4,178.6 2014.1,240.0 2018.6,205.4 2019.4,291.2 2023.0,201.2 2027.5,199.6 2028.3,189.4 2032.0,159.2 2032.8,226.7 2036.4,285.9 2037.2,267.7 2040.0,250.4 2040.8,296.7 2045.3,305.7 2046.1,254.5 2049.2,321.3 2053.2,315.2 2054.0,361.0 2059.8,381.0 2060.6,278.2 2063.8,373.1 2067.7,319.4 2068.5,372.8 2073.0,479.8 2073.8,372.0 2079.6,347.2 2080.4,405.7 2086.2,409.5 2087.0,309.0 2092.8,332.3 2093.6,447.0 2099.4,407.9 2100.2,296.1 2106.0,354.5 2106.8,480.2 2112.6,492.0 2113.4,416.6 2116.5,323.7 2117.3,518.8 2120.4,341.5 2124.4,464.3 2125.2,357.2 2131.0,385.1 2131.8,502.3 2135.0,398.3 2139.0,456.2 2139.8,346.8 2144.2,307.0 2145.0,411.6 2150.8,465.5 2151.6,371.7 2157.4,301.5 2158.2,480.4 2162.7,568.9 2163.5,300.1 2169.3,290.6 2170.1,441.2 2173.2,318.7 2177.2,496.9 2178.0,290.1 2183.8,305.2 2184.6,408.1 2187.8,287.3 2191.7,340.9 2195.0,254.0 2197.5,300.0 2198.0,450.0 2198.5,650.0"/>
</g>
<g filter="url(#soft2)">
<g fill="none" stroke="#000" stroke-linecap="butt">
<line x1="167.5" y1="39.5" x2="167.5" y2="1194.8" stroke-width="7.5"/>
<line x1="2201.3" y1="39.5" x2="2201.3" y2="1194.8" stroke-width="6.5"/>
<line x1="163.8" y1="42.5" x2="2204.6" y2="42.5" stroke-width="6"/>
<line x1="163.8" y1="1191.6" x2="2204.6" y2="1191.6" stroke-width="6.5"/>
</g>
<g fill="none" stroke="#000" stroke-width="6">
<line x1="312.8" y1="1191.6" x2="312.8" y2="1177.6"/>
<line x1="312.8" y1="42.5" x2="312.8" y2="55.5"/>
<line x1="458.0" y1="1191.6" x2="458.0" y2="1161.6"/>
<line x1="458.0" y1="42.5" x2="458.0" y2="70.5"/>
<line x1="603.3" y1="1191.6" x2="603.3" y2="1177.6"/>
<line x1="603.3" y1="42.5" x2="603.3" y2="55.5"/>
<line x1="748.6" y1="1191.6" x2="748.6" y2="1161.6"/>
<line x1="748.6" y1="42.5" x2="748.6" y2="70.5"/>
<line x1="893.9" y1="1191.6" x2="893.9" y2="1177.6"/>
<line x1="893.9" y1="42.5" x2="893.9" y2="55.5"/>
<line x1="1039.1" y1="1191.6" x2="1039.1" y2="1161.6"/>
<line x1="1039.1" y1="42.5" x2="1039.1" y2="70.5"/>
<line x1="1184.4" y1="1191.6" x2="1184.4" y2="1177.6"/>
<line x1="1184.4" y1="42.5" x2="1184.4" y2="55.5"/>
<line x1="1329.7" y1="1191.6" x2="1329.7" y2="1161.6"/>
<line x1="1329.7" y1="42.5" x2="1329.7" y2="70.5"/>
<line x1="1474.9" y1="1191.6" x2="1474.9" y2="1177.6"/>
<line x1="1474.9" y1="42.5" x2="1474.9" y2="55.5"/>
<line x1="1620.2" y1="1191.6" x2="1620.2" y2="1161.6"/>
<line x1="1620.2" y1="42.5" x2="1620.2" y2="70.5"/>
<line x1="1765.5" y1="1191.6" x2="1765.5" y2="1177.6"/>
<line x1="1765.5" y1="42.5" x2="1765.5" y2="55.5"/>
<line x1="1910.8" y1="1191.6" x2="1910.8" y2="1161.6"/>
<line x1="1910.8" y1="42.5" x2="1910.8" y2="70.5"/>
<line x1="2056.0" y1="1191.6" x2="2056.0" y2="1177.6"/>
<line x1="2056.0" y1="42.5" x2="2056.0" y2="55.5"/>
<line x1="2201.3" y1="189.2" x2="2164.3" y2="189.2"/>
<line x1="2201.3" y1="481.5" x2="2164.3" y2="481.5"/>
<line x1="2201.3" y1="627.5" x2="2182.3" y2="627.5"/>
<line x1="2201.3" y1="775.0" x2="2164.3" y2="775.0"/>
<line x1="2201.3" y1="920.5" x2="2182.3" y2="920.5"/>
<line x1="2201.3" y1="1067.0" x2="2164.3" y2="1067.0"/>
</g>
<line x1="2200" y1="440" x2="2200" y2="650" stroke="#b00000" stroke-width="6" opacity="0.55"/>
<g fill="none" stroke="#00b050" stroke-width="3.6">
<ellipse cx="445.7" cy="770.2" rx="32.0" ry="26.0"/>
<ellipse cx="764.2" cy="770.8" rx="31.3" ry="26.3"/>
<ellipse cx="825.8" cy="770.9" rx="18.3" ry="34.0"/>
<ellipse cx="1509.7" cy="764.2" rx="18.3" ry="34.6"/>
<ellipse cx="1553.0" cy="763.4" rx="19.8" ry="33.5"/>
<ellipse cx="1601.7" cy="764.0" rx="18.3" ry="34.6"/>
<ellipse cx="1684.2" cy="610.8" rx="23.2" ry="19.8"/>
<ellipse cx="1779.6" cy="625.3" rx="23.2" ry="19.7"/>
<ellipse cx="1940.6" cy="625.3" rx="23.2" ry="19.7"/>
</g>
<g font-family="'Liberation Sans', Arial, sans-serif" font-size="68" letter-spacing="1.6" fill="#000" text-anchor="middle">
<text x="0" y="0" transform="translate(166.0 1273) scale(1.12 1)">4000</text>
<text x="0" y="0" transform="translate(458.9 1273) scale(1.12 1)">3500</text>
<text x="0" y="0" transform="translate(749.5 1273) scale(1.12 1)">3000</text>
<text x="0" y="0" transform="translate(1040.0 1273) scale(1.12 1)">2500</text>
<text x="0" y="0" transform="translate(1330.6 1273) scale(1.12 1)">2000</text>
<text x="0" y="0" transform="translate(1621.1 1273) scale(1.12 1)">1500</text>
<text x="0" y="0" transform="translate(1911.7 1273) scale(1.12 1)">1000</text>
<text x="0" y="0" transform="translate(2202.2 1273) scale(1.12 1)">500</text>
</g>
<g font-family="'Liberation Sans', Arial, sans-serif" font-size="46.7" fill="#ff0000" stroke="#fff" stroke-width="0.7" text-anchor="middle">
<text x="0" y="0" transform="translate(465.0 870.0) rotate(-90) scale(1 1.17)">3492</text>
<text x="0" y="0" transform="translate(726.6 871.0) rotate(-90) scale(1 1.17)">2875</text>
<text x="0" y="0" transform="translate(844.3 871.6) rotate(-90) scale(1 1.17)">2814</text>
<text x="0" y="0" transform="translate(1493.1 862.6) rotate(-90) scale(1 1.17)">1691</text>
<text x="0" y="0" transform="translate(1575.7 873.0) rotate(-90) scale(1 1.17)">1678</text>
<text x="0" y="0" transform="translate(1638.8 868.4) rotate(-90) scale(1 1.17)">1423</text>
<text x="0" y="0" transform="translate(1715.5 700.8) rotate(-90) scale(1 1.17)">1287</text>
<text x="0" y="0" transform="translate(1799.4 708.8) rotate(-90) scale(1 1.17)">1196</text>
<text x="0" y="0" transform="translate(1962.7 698.5) rotate(-90) scale(1 1.17)">953</text>
</g>
<text x="0" y="0" transform="translate(1208.1 1372.6) scale(1.1678 1)" text-anchor="middle" font-family="'Liberation Serif', 'Times New Roman', serif" font-size="75.5" fill="#000">Wave number(cm<tspan dy="-25" font-size="56">-1</tspan><tspan dy="25">)</tspan></text>
<text x="0" y="0" transform="translate(97.5 557.5) rotate(-90) scale(1 1.14)" text-anchor="middle" font-family="'Liberation Serif', 'Times New Roman', serif" font-size="77.3" fill="#000">Transmittance(%)</text>
</g>
</svg>
</body></html>
